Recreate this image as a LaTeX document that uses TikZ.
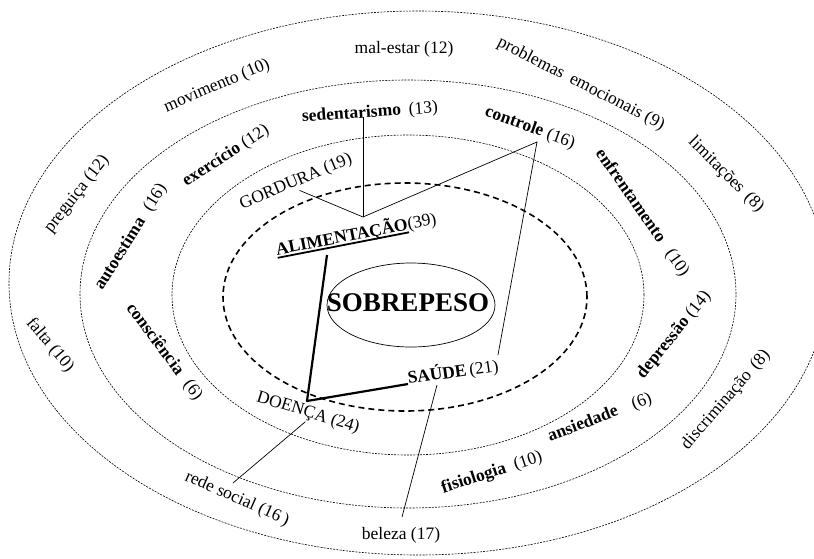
\documentclass[tikz,border=0pt]{standalone}
\usepackage{fontspec}
\setmainfont{Liberation Serif}
\usetikzlibrary{calc}

% thick rule drawn under a word
\newcommand\thickul[1]{\setbox0\hbox{#1}\rlap{\rule[-3.5pt]{\wd0}{1.8pt}}\box0}

\begin{document}
\begin{tikzpicture}[x=1pt,y=-1pt,
  ring/.style={draw, line width=0.6pt, dash pattern=on 2pt off 1.2pt},
  core/.style={draw, line width=1.6pt, dash pattern=on 6pt off 4pt},
  lbl/.style={inner sep=1pt, font=\fontsize{17.5}{20}\selectfont},
  link/.style={line width=0.7pt},
  boldlink/.style={line width=2.2pt, line join=round},
]
\useasboundingbox (0,0) rectangle (814,558);
\fill[white] (0,0) rectangle (814,558);

% concentric rings
\draw[ring] (418,283) ellipse [x radius=409pt, y radius=272pt];
\draw[ring] (408,294) ellipse [x radius=328pt, y radius=214pt];
\draw[ring] (408,295) ellipse [x radius=236pt, y radius=160pt];
\draw[core] (405,297) ellipse [x radius=182pt, y radius=114pt];
\draw[line width=0.7pt] (411,305) ellipse [x radius=84pt, y radius=42pt];

% centre
\node[font=\bfseries\fontsize{27}{30}\selectfont, inner sep=0pt] (sobre) at (408,303) {SOBREPESO};

% outer ring labels
\node[lbl] (malestar) at (404,49) {mal-estar (12)};
\node[lbl, rotate=-27] (probl) at (581,84) {problemas\hspace{0.45em}emocionais (9)};
\node[lbl, rotate=-45] (limit) at (726,175) {limitações\hspace{0.4em}(8)};
\node[lbl, rotate=49] (discr) at (726,400) {discriminação\hspace{0.4em}(8)};
\node[lbl] (beleza) at (401,535) {beleza (17)};
\node[lbl, rotate=-24] (rede) at (237,499) {rede social (16\,)};
\node[lbl, rotate=-50] (falta) at (50,345) {falta (10)};
\node[lbl, rotate=52] (pregu) at (77,194) {preguiça (12)};
\node[lbl, rotate=23] (movim) at (217,86) {movimento (10)};

% middle ring labels
\node[lbl, rotate=4] (sedent) at (370,113) {\textbf{sedentarismo}\hspace{0.45em}(13)};
\node[lbl, rotate=-20] (contr) at (530,128) {\textbf{controle} (16)};
\node[lbl, rotate=-55] (enfr) at (642,213) {\textbf{enfrentamento}\hspace{0.7em}(10)};
\node[lbl, rotate=51] (depr) at (674,335) {\textbf{depressão} (14)};
\node[lbl, rotate=21] (ansi) at (600,418) {\textbf{ansiedade}\hspace{0.9em}(6)};
\node[lbl, rotate=18] (fisio) at (492,473) {\textbf{fisiologia}\hspace{0.5em}(10)};
\node[lbl, rotate=-53] (consc) at (164,352) {\textbf{consciência}\hspace{0.6em}(6)};
\node[lbl, rotate=58] (autoe) at (131,237) {\textbf{autoestima}\hspace{0.6em}(16)};
\node[lbl, rotate=33] (exerc) at (226,156) {\textbf{exercício} (12)};

% inner labels
\node[lbl, rotate=23] (gord) at (296,182) {GORDURA (19)};
\node[lbl, rotate=11, anchor=base west] (alim) at (276,255.5) {\thickul{\textbf{ALIMENTAÇÃO}}(39)};
\node[lbl, rotate=8] (saude) at (453,372) {\textbf{SAÚDE}\,(21)};
\node[lbl, rotate=-17] (doenca) at (308,413) {DOENÇA (24)};

% junction points
\coordinate (v) at (363,217);
\coordinate (c) at (537,142);
\coordinate (a) at (327,255);
\coordinate (d) at (307,401);
\coordinate (s2) at (408,384);
\coordinate (s3) at (437,385);
\coordinate (bel) at (402,517);
\coordinate (red) at (233,483);

% thin links
\draw[link] (gord.south) -- (v);
\draw[link] (v) -- (v |- sedent.base);
\draw[link] (v) -- (c) -- (saude.north east);
\draw[link] (s3) -- (bel);
\draw[link] (doenca.south) -- (red);

% bold chain
\draw[boldlink] (a) -- (d) -- (s2);
\end{tikzpicture}
\end{document}
